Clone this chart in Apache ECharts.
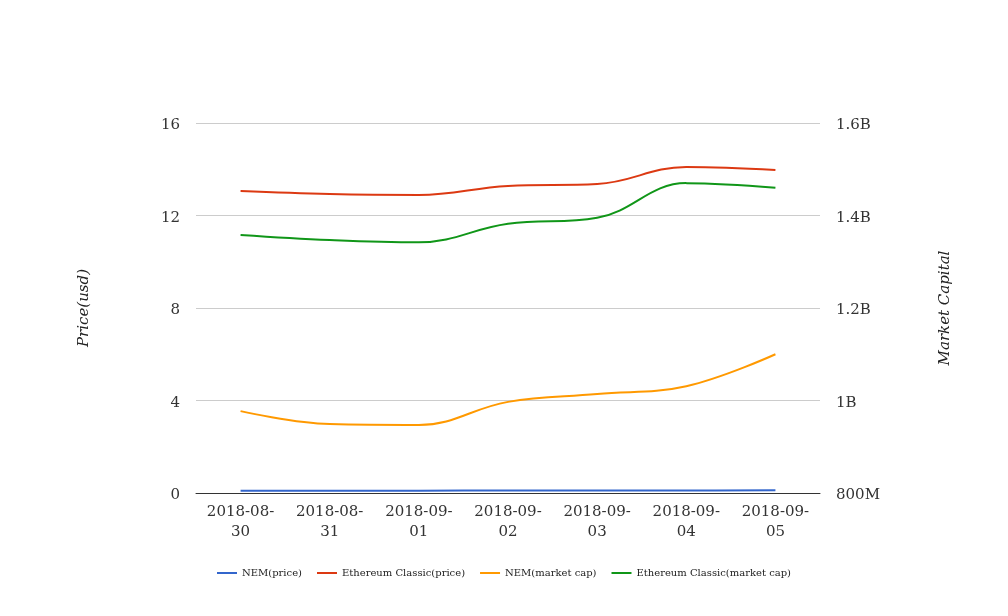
<!DOCTYPE html>
<html><head><meta charset="utf-8">
<script src="https://cdn.jsdelivr.net/npm/echarts@6/dist/echarts.min.js"></script>
<style>html,body{margin:0;padding:0;background:#fff}#c{width:1008px;height:616px}</style>
</head><body><div id="c"></div>
<script>
const categories = ['2018-08-30','2018-08-31','2018-09-01','2018-09-02','2018-09-03','2018-09-04','2018-09-05'];
const nemPrice = [0.10, 0.10, 0.10, 0.11, 0.11, 0.11, 0.12];
const etcPrice = [13.06, 12.93, 12.89, 13.28, 13.36, 14.10, 13.97];
const nemCap = [977e6, 949e6, 947e6, 997e6, 1014e6, 1031e6, 1100e6];
const etcCap = [1358e6, 1347e6, 1342e6, 1382e6, 1395e6, 1470e6, 1460e6];
const seriesNames = ['NEM(price)','Ethereum Classic(price)','NEM(market cap)','Ethereum Classic(market cap)'];
const colors = ['#3366cc','#dc3912','#ff9900','#109618'];

const font = 'DejaVu Serif';
function capFmt(v){
  if (v >= 1e9) return (Math.round(v/1e8)/10) + 'B';
  return Math.round(v/1e6) + 'M';
}
const chart = echarts.init(document.getElementById('c'));
const mk = (name, data, yi, c) => ({
  name, type:'line', data, yAxisIndex: yi, smooth: 0.4, showSymbol:false, symbol:'none',
  lineStyle:{width:2, color:c}, itemStyle:{color:c}
});
chart.setOption({
  animation:false,
  color: colors,
  grid:{left:196, right:188, top:123, bottom:123},
  legend:{
    bottom:33, left:'center', icon:'rect', itemWidth:20, itemHeight:2, itemGap:15,
    textStyle:{fontFamily:font, fontSize:10, color:'#222'},
    data: seriesNames
  },
  xAxis:{
    type:'category', data:categories, boundaryGap:true,
    axisLine:{lineStyle:{color:'#333', width:1}}, axisTick:{show:false},
    axisLabel:{fontFamily:font, fontSize:15, color:'#333', lineHeight:20, margin:9,
      formatter: v => v.slice(0,8) + '\n' + v.slice(8)}
  },
  yAxis:[
    {type:'value', min:0, max:16, interval:4, name:'Price(usd)', nameLocation:'middle', nameGap:104,
     nameTextStyle:{fontFamily:font, fontSize:15, fontStyle:'italic', color:'#222'},
     axisLine:{show:false}, axisTick:{show:false},
     axisLabel:{fontFamily:font, fontSize:15, color:'#333', margin:16, lineHeight:19, verticalAlign:'top', padding:[-7,0,0,0]},
     splitLine:{lineStyle:{color:'#ccc'}}},
    {type:'value', min:800e6, max:1600e6, interval:200e6, name:'Market Capital', nameLocation:'middle', nameGap:118,
     nameTextStyle:{fontFamily:font, fontSize:15, fontStyle:'italic', color:'#222'},
     axisLine:{show:false}, axisTick:{show:false},
     axisLabel:{fontFamily:font, fontSize:15, color:'#333', margin:16, formatter:capFmt, lineHeight:19, verticalAlign:'top', padding:[-7,0,0,0]},
     splitLine:{show:false}}
  ],
  series:[
    mk(seriesNames[0], nemPrice, 0, colors[0]),
    mk(seriesNames[1], etcPrice, 0, colors[1]),
    mk(seriesNames[2], nemCap, 1, colors[2]),
    mk(seriesNames[3], etcCap, 1, colors[3])
  ]
});
</script></body></html>
